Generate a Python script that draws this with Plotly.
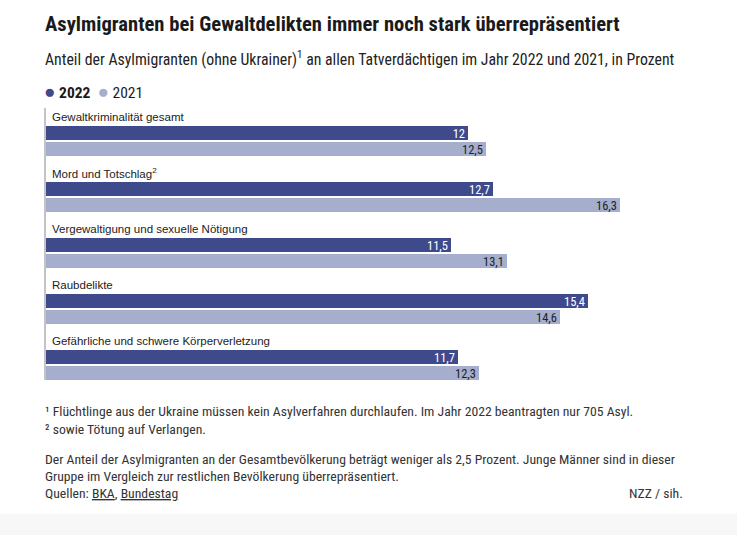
import plotly.graph_objects as go

categories = [
    "Gewaltkriminalität gesamt",
    "Mord und Totschlag<sup>2</sup>",
    "Vergewaltigung und sexuelle Nötigung",
    "Raubdelikte",
    "Gefährliche und schwere Körperverletzung",
]
values_2022 = [12.0, 12.7, 11.5, 15.4, 11.7]
values_2021 = [12.5, 16.3, 13.1, 14.6, 12.3]
series_names = ["2022", "2021"]

title = "Asylmigranten bei Gewaltdelikten immer noch stark überrepräsentiert"
subtitle = ("Anteil der Asylmigranten (ohne Ukrainer)<sup>1</sup> an allen Tatverdächtigen "
            "im Jahr 2022 und 2021, in Prozent")
footnotes = [
    "¹ Flüchtlinge aus der Ukraine müssen kein Asylverfahren durchlaufen. Im Jahr 2022 beantragten nur 705 Asyl.",
    "² sowie Tötung auf Verlangen.",
    "Der Anteil der Asylmigranten an der Gesamtbevölkerung beträgt weniger als 2,5 Prozent. Junge Männer sind in dieser",
    "Gruppe im Vergleich zur restlichen Bevölkerung überrepräsentiert.",
]
source = "Quellen: <u>BKA</u>, <u>Bundestag</u>"
credit = "NZZ / sih."

DARK = "#3e4a8c"
LIGHT = "#a6aecd"
NARROW = "Liberation Sans Narrow, Roboto Condensed, Arial Narrow, sans-serif"
SANS = "Liberation Sans, Arial, sans-serif"

W, H = 737, 535
L, R, T, B = 46, 37, 108, 155
PW, PH = W - L - R, H - T - B


def px(x):
    return (x - L) / PW


def py(y):
    return (H - B - y) / PH


def fmt(v):
    s = f"{v:g}"
    return s.replace(".", ",")


STEP = 7
y22 = [i * STEP + 2 for i in range(len(categories))]
y21 = [i * STEP + 4 for i in range(len(categories))]
ylab = [i * STEP for i in range(len(categories))]

fig = go.Figure()
fig.add_trace(go.Bar(
    x=values_2022, y=y22, orientation="h", width=1.75,
    marker=dict(color=DARK, line=dict(width=0)), name=series_names[0],
    text=[fmt(v) for v in values_2022], textposition="inside",
    insidetextanchor="end", textangle=0, constraintext="none",
    textfont=dict(color="white", size=12.5, family=NARROW),
    hoverinfo="skip",
))
fig.add_trace(go.Bar(
    x=values_2021, y=y21, orientation="h", width=1.75,
    marker=dict(color=LIGHT, line=dict(width=0)), name=series_names[1],
    text=[fmt(v) for v in values_2021], textposition="inside",
    insidetextanchor="end", textangle=0, constraintext="none",
    textfont=dict(color="#222222", size=12.5, family=NARROW),
    hoverinfo="skip",
))

annotations = []
for c, yl in zip(categories, ylab):
    annotations.append(dict(
        x=0, y=yl, xref="x", yref="y", text=c, showarrow=False,
        xanchor="left", yanchor="middle", xshift=4,
        font=dict(family=SANS, size=11.5, color="#222222"),
    ))

annotations.append(dict(
    x=px(43), y=py(24), xref="paper", yref="paper", text=f"<b>{title}</b>",
    showarrow=False, xanchor="left", yanchor="middle",
    font=dict(family=NARROW, size=20.6, color="#1a1a1a"),
))
annotations.append(dict(
    x=px(43), y=py(59), xref="paper", yref="paper", text=subtitle,
    showarrow=False, xanchor="left", yanchor="middle",
    font=dict(family=NARROW, size=15.8, color="#222222"),
))
annotations.append(dict(
    x=px(42), y=py(91), xref="paper", yref="paper",
    text=(f"<span style='color:{DARK};font-size:19px'>●</span> <b>{series_names[0]}</b>&nbsp; "
          f"<span style='color:{LIGHT};font-size:19px'>●</span> {series_names[1]}"),
    showarrow=False, xanchor="left", yanchor="middle",
    font=dict(family=NARROW, size=15.5, color="#1a1a1a"),
))
for t, yy in zip(footnotes, [411, 429, 459, 476]):
    annotations.append(dict(
        x=px(43), y=py(yy), xref="paper", yref="paper", text=t,
        showarrow=False, xanchor="left", yanchor="middle",
        font=dict(family=NARROW, size=13.7, color="#333333"),
    ))
annotations.append(dict(
    x=px(43), y=py(493), xref="paper", yref="paper", text=source,
    showarrow=False, xanchor="left", yanchor="middle",
    font=dict(family=NARROW, size=13.7, color="#333333"),
))
annotations.append(dict(
    x=px(685), y=py(493), xref="paper", yref="paper", text=credit,
    showarrow=False, xanchor="right", yanchor="middle",
    font=dict(family=NARROW, size=13.7, color="#333333"),
))

shapes = [dict(
    type="rect", xref="paper", yref="paper",
    x0=px(-5), x1=px(W + 5), y0=py(H + 5), y1=py(514),
    fillcolor="#f7f7f7", line=dict(width=0), layer="below",
)]

fig.update_layout(
    width=W, height=H,
    margin=dict(l=L, r=R, t=T, b=B, pad=0),
    paper_bgcolor="white", plot_bgcolor="white",
    showlegend=False, bargap=0, barmode="overlay",
    xaxis=dict(range=[0, PW / 35.19], visible=False, fixedrange=True),
    yaxis=dict(range=[(380 - 116.7) / 8, (108 - 116.7) / 8],
               showticklabels=False, showgrid=False, zeroline=False,
               showline=True, linecolor="#c4c4c4", linewidth=1.5,
               ticks="", fixedrange=True),
    annotations=annotations, shapes=shapes,
    font=dict(family=NARROW),
)

fig.write_html("out.html", config={"displayModeBar": False},
               post_script="document.body.style.margin='0';")
